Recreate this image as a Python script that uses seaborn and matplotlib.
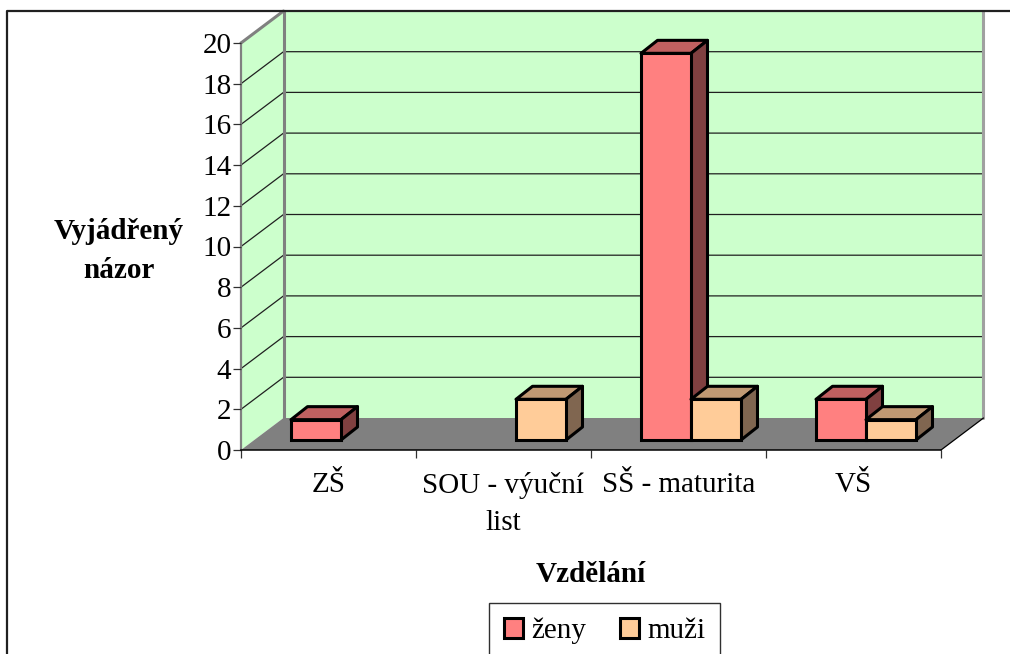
import matplotlib
matplotlib.use("Agg")
import matplotlib.pyplot as plt
import pandas as pd
import seaborn as sns
from matplotlib.lines import Line2D
from matplotlib.patches import Patch, Polygon

categories = ["ZŠ", "SOU - výuční\nlist", "SŠ - maturita", "VŠ"]
zeny = [1, 0, 19, 2]
muzi = [0, 2, 2, 1]
y_ticks = list(range(0, 21, 2))
series_names = ["ženy", "muži"]

W, H = 1010, 654
sns.set_theme(style="white")
plt.rcParams["font.family"] = ["Liberation Serif", "DejaVu Serif"]
FS = 21.0
LS = 1.55

FRONT = {"ženy": "#FF8080", "muži": "#FFCC99"}
TOP = {"ženy": "#C06060", "muži": "#C09973"}
SIDE = {"ženy": "#804040", "muži": "#806650"}

df = pd.DataFrame({
    "cat": categories * 2,
    "val": zeny + muzi,
    "sex": [series_names[0]] * 4 + [series_names[1]] * 4,
})

fig = plt.figure(figsize=(W / 100, H / 100), dpi=100, facecolor="white")
L, R, T, B = 241, 941, 43, 450
ax = fig.add_axes([L / W, 1 - B / H, (R - L) / W, (B - T) / H])
ax.patch.set_visible(False)

sns.barplot(data=df, x="cat", y="val", hue="sex", order=categories,
            hue_order=series_names, palette=FRONT, width=0.5714, gap=0,
            saturation=1, edgecolor="black", linewidth=2.2, legend=False,
            ax=ax, clip_on=False)

ax.set_xlim(-0.5, 3.5)
ax.set_ylim(0, 20)
px_x = (R - L) / 4
px_y = (B - T) / 20
DX, DY = 42.5 / px_x, 32 / px_y      # depth of the chart box
BX, BY = 12.5 / px_x, 10 / px_y      # bar position inside the box
TX, TY = 16.5 / px_x, 13 / px_y      # depth of each bar

x0, x1 = ax.get_xlim()
# walls and floor
ax.add_patch(Polygon([(x0 + DX, DY), (x1 + DX, DY), (x1 + DX, 20 + DY), (x0 + DX, 20 + DY)],
                     fc="#CCFFCC", ec="none", zorder=0.1, clip_on=False))
ax.add_patch(Polygon([(x0, 0), (x0 + DX, DY), (x0 + DX, 20 + DY), (x0, 20)],
                     fc="#CCFFCC", ec="none", zorder=0.1, clip_on=False))
ax.add_patch(Polygon([(x0, 0), (x0 + DX, DY), (x1 + DX, DY), (x1, 0)],
                     fc="#808080", ec="none", zorder=0.2, clip_on=False))
for v in y_ticks[1:-1]:
    ax.plot([x0, x0 + DX, x1 + DX], [v, v + DY, v + DY], color="#202020", lw=0.9,
            zorder=0.3, clip_on=False)
ax.plot([x0 + DX, x0 + DX], [DY, 20 + DY], color="#808080", lw=2.2, zorder=0.4, clip_on=False)
ax.plot([x1 + DX, x1 + DX], [DY, 20 + DY], color="#A0A0A0", lw=2.2, zorder=0.4, clip_on=False)
ax.plot([x0, x0 + DX], [20, 20 + DY], color="#808080", lw=2.2, zorder=0.4, clip_on=False)
ax.plot([x1, x1 + DX], [0, DY], color="black", lw=0.9, zorder=0.4, clip_on=False)

# bars: seaborn draws the fronts, depth faces are derived from those rectangles
z = 2.0
for cat_i in range(len(categories)):
    for name, cont in zip(series_names, ax.containers):
        r = cont.patches[cat_i]
        if r.get_height() <= 0:
            r.set_visible(False)
            continue
        r.set_x(r.get_x() + BX)
        r.set_y(BY)
        x, w, h = r.get_x(), r.get_width(), r.get_height()
        y = BY
        style = dict(ec="black", lw=2.2, joinstyle="round", clip_on=False)
        ax.add_patch(Polygon([(x, y + h), (x + TX, y + h + TY), (x + w + TX, y + h + TY), (x + w, y + h)],
                             fc=TOP[name], zorder=z, **style))
        ax.add_patch(Polygon([(x + w, y), (x + w + TX, y + TY), (x + w + TX, y + h + TY), (x + w, y + h)],
                             fc=SIDE[name], zorder=z, **style))
        r.set_zorder(z + 0.1)
        z += 1

# axes
ax.set_yticks(y_ticks)
ax.set_xticks([x0 + i for i in range(5)])
ax.set_xticklabels([])
ax.set_xticks(range(len(categories)), labels=categories, minor=True, fontsize=FS,
              linespacing=LS)
ax.tick_params(axis="x", which="major", length=6, width=0.9, color="#303030", bottom=True)
ax.tick_params(axis="x", which="minor", length=0, pad=16, labelcolor="black", bottom=True)
ax.tick_params(axis="y", length=6, width=0.9, color="#303030", pad=1, labelsize=FS,
               labelcolor="black", left=True)
for s in ["top", "right"]:
    ax.spines[s].set_visible(False)
ax.spines["left"].set_color("#808080")
ax.spines["left"].set_linewidth(1.6)
ax.spines["left"].set_zorder(0.5)
ax.spines["bottom"].set_color("black")
ax.spines["bottom"].set_linewidth(1.1)

ax.set_xlabel("Vzdělání", fontsize=FS, fontweight="bold", color="black")
ax.xaxis.set_label_coords((591 - L) / (R - L), (B - 574) / (B - T))
ax.xaxis.label.set_va("center")
ax.set_ylabel("Vyjádřený\nnázor", fontsize=FS, fontweight="bold", color="black",
              rotation=0, ha="center", va="center", linespacing=LS)
ax.yaxis.set_label_coords((119 - L) / (R - L), (B - 251) / (B - T))

# outer frame, cropped at right and bottom
fig.add_artist(Line2D([7 / W, 7 / W, 1], [0, 1 - 11 / H, 1 - 11 / H], color="#202020", lw=1.6))

# legend, also cropped by the lower edge
handles = [Patch(fc=FRONT[n], ec="black", lw=2.2, label=n) for n in series_names]
leg = fig.legend(handles=handles, loc="upper left", bbox_to_anchor=(489 / W, 1 - 603 / H),
                 bbox_transform=fig.transFigure, ncol=2, fontsize=FS, frameon=True,
                 fancybox=False, edgecolor="#303030", framealpha=1, borderaxespad=0,
                 borderpad=0.5, handlelength=0.65, handleheight=0.7,
                 handletextpad=0.3, columnspacing=1.15, labelcolor="black")
leg.get_frame().set_linewidth(1.0)

fig.savefig("out.png", dpi=100)
